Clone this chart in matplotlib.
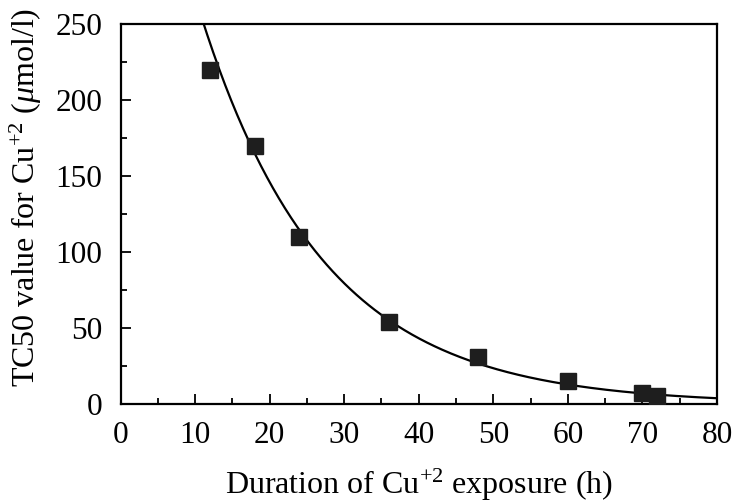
import numpy as np
import matplotlib
matplotlib.use("Agg")
import matplotlib.pyplot as plt
from matplotlib.ticker import MultipleLocator

plt.rcParams['font.family'] = ['Liberation Serif', 'DejaVu Serif']
plt.rcParams['mathtext.fontset'] = 'custom'
plt.rcParams['mathtext.rm'] = 'Liberation Serif'
plt.rcParams['mathtext.it'] = 'Liberation Serif:italic'

# Data
duration_h = [12, 18, 24, 36, 48, 60, 70, 72]
tc50_umol = [220, 170, 110, 54, 31, 15, 7, 5]
x_ticks = [0, 10, 20, 30, 40, 50, 60, 70, 80]
y_ticks = [0, 50, 100, 150, 200, 250]

# exponential fit of the data (log-linear least squares)
slope, intercept = np.polyfit(duration_h, np.log(tc50_umol), 1)
xfit = np.linspace(0, 80, 400)
yfit = np.exp(intercept + slope * xfit)

fig = plt.figure(figsize=(7.35, 5.01), dpi=100)
ax = fig.add_axes([120.5/735, 1-404/501, (717-120.5)/735, (404-24)/501])

ax.plot(xfit, yfit, color='black', lw=1.6, zorder=2)
ax.plot(duration_h, tc50_umol, 's', color='#1e1e1e', ms=11, mec='#1e1e1e', zorder=3)

ax.set_xlim(0, 80)
ax.set_ylim(0, 250)
ax.set_xticks(x_ticks)
ax.set_yticks(y_ticks)
ax.xaxis.set_minor_locator(MultipleLocator(5))
ax.yaxis.set_minor_locator(MultipleLocator(25))
ax.tick_params(which='both', direction='in', width=1.3, labelsize=22.5)
ax.tick_params(which='major', length=7)
ax.tick_params(which='minor', length=4)
ax.tick_params(axis='x', pad=12)
ax.tick_params(axis='y', pad=13)
for s in ax.spines.values():
    s.set_linewidth(1.6)

ax.set_xlabel(r'Duration of Cu$^{+2}$ exposure (h)', fontsize=23, labelpad=12)
ax.set_ylabel(r'TC50 value for Cu$^{+2}$ ($\mu$mol/l)', fontsize=23)
ax.yaxis.set_label_coords(-0.128, 0.545)

fig.savefig('out.png', dpi=100)
